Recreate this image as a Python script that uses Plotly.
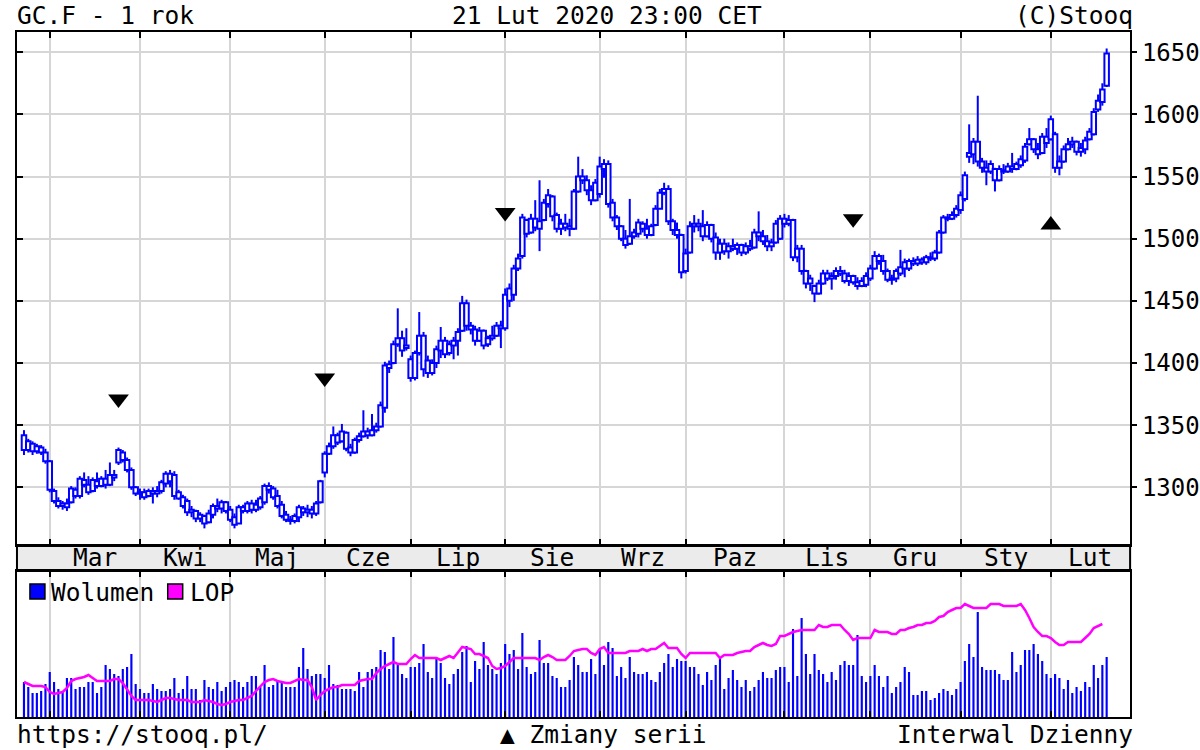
import pandas as pd
import plotly.graph_objects as go

# ---------------- data ----------------
holidays = ['2019-04-19', '2019-05-27', '2019-07-04', '2019-09-02', '2019-11-28',
            '2019-12-25', '2020-01-01', '2020-01-20', '2020-02-17']
dates = [d for d in pd.bdate_range('2019-02-21', '2020-02-21') if d.strftime('%Y-%m-%d') not in holidays]

open_ = [1342,1330,1335,1329,1332,1328,1321,1297,1289,1285,
         1287,1288,1298,1293,1306,1302,1297,1305,1301,1307,
         1302,1310,1320,1328,1322,1314,1300,1295,1296,1293,
         1297,1295,1297,1303,1311,1310,1296,1292,1289,1280,
         1281,1275,1277,1272,1278,1285,1283,1288,1282,1276,
         1271,1284,1281,1287,1282,1284,1288,1301,1299,1293,
         1286,1278,1274,1273,1276,1283,1280,1282,1279,1288,
         1312,1327,1333,1342,1337,1344,1332,1328,1338,1341,
         1345,1342,1346,1349,1364,1396,1400,1415,1420,1412,
         1403,1388,1408,1422,1402,1392,1400,1410,1418,1408,
         1414,1418,1426,1448,1430,1427,1418,1426,1415,1420,
         1422,1430,1428,1450,1455,1476,1486,1515,1505,1516,
         1508,1515,1528,1534,1519,1508,1512,1510,1508,1538,
         1550,1547,1539,1531,1536,1556,1560,1529,1517,1510,
         1500,1496,1502,1504,1512,1508,1503,1511,1524,1537,
         1540,1514,1507,1503,1474,1489,1510,1512,1510,1502,
         1511,1501,1489,1496,1490,1494,1492,1495,1489,1494,
         1493,1505,1502,1498,1494,1497,1500,1516,1512,1515,
         1485,1492,1474,1464,1462,1456,1464,1472,1468,1470,
         1474,1472,1466,1470,1465,1462,1463,1468,1476,1486,
         1482,1474,1467,1468,1472,1476,1476,1482,1480,1483,
         1481,1485,1484,1489,1505,1517,1516,1519,1523,1532,
         1566,1568,1578,1562,1557,1554,1556,1547,1555,1554,
         1558,1556,1559,1563,1576,1580,1572,1569,1582,1580,
         1584,1557,1562,1572,1576,1578,1570,1572,1580,1584,
         1604,1610,1623]

high = [1346,1339,1337,1335,1334,1331,1322,1299,1292,1289,
        1291,1301,1300,1309,1312,1309,1308,1312,1309,1314,
        1320,1314,1332,1330,1324,1316,1301,1299,1299,1299,
        1300,1301,1306,1313,1314,1313,1298,1294,1291,1285,
        1282,1280,1278,1282,1287,1291,1290,1289,1285,1279,
        1286,1286,1289,1290,1290,1293,1303,1304,1301,1298,
        1289,1281,1277,1279,1286,1285,1286,1285,1289,1306,
        1329,1336,1349,1344,1351,1345,1335,1340,1344,1362,
        1348,1359,1352,1369,1401,1402,1418,1444,1426,1428,
        1406,1410,1441,1425,1406,1403,1414,1429,1421,1418,
        1421,1428,1454,1451,1433,1430,1429,1427,1422,1430,
        1433,1434,1460,1464,1479,1488,1520,1516,1520,1531,
        1547,1532,1540,1535,1521,1516,1520,1516,1540,1566,
        1556,1551,1543,1548,1566,1564,1563,1532,1519,1511,
        1507,1532,1508,1516,1514,1516,1512,1527,1540,1545,
        1543,1516,1513,1504,1492,1514,1519,1516,1523,1514,
        1512,1505,1500,1500,1497,1500,1497,1496,1497,1499,
        1508,1522,1507,1503,1500,1515,1519,1520,1519,1516,
        1495,1495,1475,1471,1463,1467,1475,1475,1473,1477,
        1478,1475,1473,1471,1469,1469,1473,1479,1490,1488,
        1487,1476,1471,1476,1491,1484,1484,1485,1486,1485,
        1487,1489,1491,1507,1519,1520,1522,1527,1538,1554,
        1592,1581,1615,1565,1563,1563,1557,1559,1560,1561,
        1569,1562,1567,1577,1589,1581,1577,1585,1589,1599,
        1586,1567,1575,1581,1582,1579,1577,1582,1589,1605,
        1616,1625,1653]

low = [1326,1328,1326,1327,1326,1319,1296,1287,1283,1282,
       1281,1287,1291,1291,1300,1294,1296,1299,1300,1299,
       1301,1305,1318,1320,1312,1298,1293,1290,1290,1292,
       1287,1292,1295,1300,1300,1290,1290,1283,1277,1276,
       1272,1272,1267,1271,1275,1280,1279,1279,1272,1267,
       1271,1279,1279,1279,1280,1282,1286,1295,1290,1283,
       1275,1272,1270,1271,1272,1277,1276,1275,1277,1287,
       1308,1326,1331,1334,1336,1329,1325,1327,1336,1340,
       1339,1341,1344,1348,1360,1392,1399,1413,1405,1410,
       1385,1386,1406,1389,1388,1390,1396,1404,1404,1406,
       1403,1406,1425,1426,1423,1414,1417,1411,1413,1418,
       1421,1412,1426,1445,1450,1474,1484,1501,1504,1506,
       1490,1514,1525,1514,1505,1503,1506,1502,1507,1537,
       1544,1535,1527,1530,1533,1549,1525,1514,1507,1498,
       1492,1495,1500,1501,1505,1500,1502,1510,1524,1535,
       1511,1503,1500,1468,1472,1488,1505,1506,1498,1501,
       1497,1483,1483,1487,1484,1490,1487,1486,1487,1490,
       1492,1498,1495,1490,1490,1496,1499,1509,1510,1482,
       1481,1471,1460,1458,1449,1455,1463,1466,1459,1467,
       1470,1464,1462,1463,1459,1461,1461,1466,1475,1479,
       1471,1465,1463,1465,1470,1469,1474,1478,1478,1479,
       1479,1482,1482,1488,1504,1514,1515,1517,1520,1530,
       1561,1560,1558,1553,1543,1552,1538,1546,1552,1553,
       1553,1555,1557,1561,1575,1569,1564,1568,1573,1579,
       1553,1551,1561,1571,1573,1567,1566,1568,1579,1583,
       1602,1607,1622]

close = [1330,1337,1329,1333,1328,1321,1298,1289,1285,1287,
         1284,1299,1293,1307,1302,1296,1306,1301,1307,1302,
         1310,1308,1330,1322,1314,1300,1295,1296,1292,1297,
         1295,1297,1304,1311,1305,1293,1291,1285,1280,1282,
         1275,1278,1271,1279,1285,1283,1288,1281,1274,1270,
         1284,1281,1287,1282,1286,1291,1301,1298,1292,1285,
         1277,1274,1273,1277,1284,1280,1282,1279,1287,1305,
         1327,1333,1342,1336,1345,1331,1328,1338,1341,1345,
         1342,1346,1349,1366,1398,1399,1415,1420,1410,1414,
         1388,1408,1422,1395,1392,1400,1411,1418,1407,1415,
         1418,1425,1448,1430,1427,1418,1426,1414,1420,1422,
         1430,1428,1455,1460,1476,1484,1517,1504,1516,1509,
         1514,1529,1535,1518,1508,1512,1509,1508,1538,1550,
         1547,1539,1531,1545,1558,1560,1528,1517,1510,1500,
         1495,1502,1505,1513,1508,1503,1510,1524,1537,1540,
         1514,1507,1503,1473,1488,1510,1512,1510,1502,1511,
         1500,1489,1496,1490,1494,1492,1495,1489,1494,1492,
         1505,1502,1498,1494,1497,1512,1516,1512,1515,1485,
         1492,1474,1464,1468,1456,1464,1472,1468,1470,1474,
         1472,1466,1470,1465,1462,1466,1470,1476,1486,1482,
         1474,1467,1468,1474,1477,1481,1482,1480,1483,1481,
         1485,1484,1489,1505,1517,1516,1519,1524,1535,1551,
         1569,1578,1562,1557,1554,1560,1547,1556,1554,1558,
         1556,1560,1564,1574,1580,1572,1568,1582,1577,1596,
         1557,1562,1572,1576,1578,1570,1573,1579,1586,1602,
         1611,1620,1649]

# volume (relative units) and open interest "LOP" (relative units)
volume = [35,30,24,24,26,33,45,35,28,26,
          39,39,28,30,30,35,35,24,30,52,
          48,43,41,48,50,63,33,28,24,24,
          33,28,26,26,28,39,24,28,41,28,
          28,17,37,30,28,35,26,30,35,37,
          35,30,35,41,41,30,52,30,32,37,
          35,30,30,30,50,69,48,41,43,43,
          39,52,33,32,28,28,28,26,45,30,
          45,48,50,67,65,48,80,52,43,39,
          50,50,54,73,45,39,58,54,39,33,
          43,48,65,71,35,56,48,75,52,48,
          43,54,73,63,67,48,84,50,43,45,
          77,54,54,41,39,30,30,
          37,60,52,45,45,58,43,67,52,75,
          69,41,50,39,60,45,43,43,45,37,
          35,45,54,63,50,58,56,56,50,50,
          43,32,45,37,52,60,28,39,47,37,
          30,37,26,30,37,45,39,39,47,50,
          50,35,88,41,99,63,43,63,47,43,
          35,45,37,52,56,52,52,82,41,35,
          41,52,41,30,41,24,30,35,50,45,
          22,22,26,26,17,19,24,28,26,22,
          28,35,56,73,60,105,50,47,47,47,
          43,37,37,65,45,52,67,67,73,63,
          56,43,39,43,39,28,37,24,30,26,
          35,30,52,39,52,60]

lop = [35,33,31,31,31,30,25,23,24,25,
       29,36,38,39,40,42,39,36,36,36,
       36,38,38,34,27,21,17,17,17,17,
       16,15,17,19,19,18,17,17,17,15,
       15,15,17,16,15,13,12,13,15,16,
       17,17,19,21,26,30,35,37,38,36,
       35,34,34,36,38,37,37,30,17,22,
       26,28,30,30,32,32,32,32,36,37,
       38,38,44,48,51,53,55,53,53,53,
       58,62,59,59,59,59,59,57,59,61,
       59,65,70,69,68,63,63,61,59,51,
       48,49,51,55,59,59,59,59,59,59,
       57,60,62,60,57,57,57,61,66,67,
       68,68,64,62,68,70,64,64,64,64,
       64,66,66,66,68,66,68,68,71,74,
       69,69,69,63,59,64,64,64,64,64,
       64,64,59,62,62,62,64,65,66,66,
       70,72,74,72,71,73,81,81,83,85,
       86,87,87,87,87,92,90,90,92,92,
       92,87,83,77,79,79,79,79,87,85,
       85,85,83,83,87,87,89,90,92,92,
       94,94,96,100,101,105,107,109,109,113,
       111,109,109,109,109,113,113,113,111,111,
       111,111,113,107,99,90,85,81,81,79,
       75,72,72,75,75,75,75,79,83,89,
       91,93]

price_ticks = [1300, 1350, 1400, 1450, 1500, 1550, 1600, 1650]
month_names = {1: 'Sty', 2: 'Lut', 3: 'Mar', 4: 'Kwi', 5: 'Maj', 6: 'Cze',
               7: 'Lip', 8: 'Sie', 9: 'Wrz', 10: 'Paz', 11: 'Lis', 12: 'Gru'}

# contract roll-overs ("Zmiany serii")
roll_down_idx = [22, 70, 112, 193]
roll_down_price = [1371, 1388, 1521, 1516]
roll_up_idx = [239]
roll_up_price = [1511]

# ---------------- layout helpers ----------------
W, H = 1200, 750
FONT = 'DejaVu Sans Mono'
FS = 24.5
BLUE = '#0000ff'
idx = list(range(len(dates)))

def px_x(p):
    return p / W

def px_y(p):
    return 1 - p / H

month_start = [i for i in range(1, len(dates)) if dates[i].month != dates[i - 1].month]
x_lo, x_hi = -1.63, 257.46
bounds = month_start + [x_hi]
month_mid = [(bounds[k] + bounds[k + 1]) / 2 for k in range(len(month_start))]
month_lbl = [month_names[dates[i].month] for i in month_start]

# hollow candles: body bars + wick segments (derived from the OHLC lists)
body_lo = [min(o, c) for o, c in zip(open_, close)]
body_hi = [max(o, c) for o, c in zip(open_, close)]
body_h = [max(b - a, 0.4) for a, b in zip(body_lo, body_hi)]
wick_x, wick_y = [], []
for i, (h, l, bl, bh) in enumerate(zip(high, low, body_lo, body_hi)):
    if h > bh:
        wick_x += [i, i, None]
        wick_y += [bh, h, None]
    if l < bl:
        wick_x += [i, i, None]
        wick_y += [bl, l, None]

fig = go.Figure()

fig.add_trace(go.Bar(x=idx, y=body_h, base=body_lo, width=1.05,
                     marker=dict(color='white', line=dict(color=BLUE, width=2)),
                     showlegend=False, hoverinfo='skip', xaxis='x', yaxis='y'))
fig.add_trace(go.Scatter(x=wick_x, y=wick_y, mode='lines', line=dict(color=BLUE, width=2),
                         showlegend=False, hoverinfo='skip', xaxis='x', yaxis='y'))

fig.add_trace(go.Scatter(x=roll_down_idx, y=roll_down_price, mode='markers',
                         marker=dict(symbol='triangle-down', size=18, color='black', line=dict(width=0)),
                         showlegend=False, hoverinfo='skip', xaxis='x', yaxis='y'))
fig.add_trace(go.Scatter(x=roll_up_idx, y=roll_up_price, mode='markers',
                         marker=dict(symbol='triangle-up', size=18, color='black', line=dict(width=0)),
                         showlegend=False, hoverinfo='skip', xaxis='x', yaxis='y'))

# invisible trace carrying the left inner tick axis
fig.add_trace(go.Scatter(x=[0], y=[1300], mode='markers', marker=dict(opacity=0),
                         showlegend=False, hoverinfo='skip', xaxis='x', yaxis='y3'))

fig.add_trace(go.Bar(x=idx, y=volume, width=0.5, marker=dict(color=BLUE, line=dict(width=0)),
                     showlegend=False, hoverinfo='skip', xaxis='x2', yaxis='y2'))
fig.add_trace(go.Scatter(x=idx[:len(lop)], y=lop, mode='lines', line=dict(color='#ff00ff', width=2.5),
                         showlegend=False, hoverinfo='skip', xaxis='x2', yaxis='y2'))

dom_x = [px_x(17), px_x(1132)]
grid = '#d6d6d6'
p_lo = 1300 - (545 - 487.4) / 1.242
p_hi = 1650 + (52.5 - 32.3) / 1.242

common_x = dict(range=[x_lo, x_hi], domain=dom_x, tickmode='array', tickvals=month_start,
                showticklabels=False, ticks='inside', ticklen=6, tickwidth=2, tickcolor='black',
                showgrid=True, gridcolor=grid, gridwidth=2, showline=True, linecolor='black',
                linewidth=2, mirror='ticks', zeroline=False, fixedrange=True)

fig.update_layout(
    width=W, height=H, margin=dict(l=0, r=0, t=0, b=0), autosize=False,
    paper_bgcolor='white', plot_bgcolor='white', barmode='overlay',
    font=dict(family=FONT, size=FS, color='black'),
    xaxis=dict(**common_x, anchor='y'),
    xaxis2=dict(**common_x, anchor='y2', matches='x'),
    yaxis=dict(domain=[px_y(545), px_y(32)], range=[p_lo, p_hi], side='right', anchor='x',
               tickmode='array', tickvals=price_ticks, ticks='outside', ticklen=5, tickwidth=2,
               tickcolor='black', showgrid=True, gridcolor=grid, gridwidth=2, showline=True,
               linecolor='black', linewidth=2, mirror=True, zeroline=False,
               tickfont=dict(family=FONT, size=24, color='black'), fixedrange=True),
    yaxis3=dict(overlaying='y', side='left', anchor='x', range=[p_lo, p_hi], tickmode='array',
                tickvals=price_ticks, ticks='inside', ticklen=6, tickwidth=2, tickcolor='black',
                showticklabels=False, showgrid=False, showline=False, zeroline=False, fixedrange=True),
    yaxis2=dict(domain=[px_y(717), px_y(571)], range=[0, 146], anchor='x2', showticklabels=False,
                ticks='', showgrid=False, showline=True, linecolor='black', linewidth=2,
                mirror=True, zeroline=False, fixedrange=True),
)

shapes = [
    dict(type='rect', xref='paper', yref='paper', x0=dom_x[0], x1=dom_x[1],
         y0=px_y(571), y1=px_y(545), fillcolor='#ebebeb', line=dict(color='black', width=2),
         layer='below'),
    dict(type='rect', xref='paper', yref='paper', x0=px_x(30), x1=px_x(45),
         y0=px_y(599), y1=px_y(584), fillcolor=BLUE, line=dict(color='black', width=1.5)),
    dict(type='rect', xref='paper', yref='paper', x0=px_x(168), x1=px_x(183),
         y0=px_y(599), y1=px_y(584), fillcolor='#ff00ff', line=dict(color='black', width=1.5)),
]
fig.update_layout(shapes=shapes)

ann = []
def text(t, x, y, anchor):
    ann.append(dict(text=t, x=px_x(x), y=px_y(y), xref='paper', yref='paper', xanchor=anchor,
                    yanchor='middle', showarrow=False, font=dict(family=FONT, size=FS, color='black')))

text('GC.F - 1 rok', 15, 15, 'left')
text('21 Lut 2020 23:00 CET', 608, 15, 'center')
text('(C)Stooq', 1137, 15, 'right')
text('https://stooq.pl/', 15, 734, 'left')
text('▲ Zmiany serii', 605, 734, 'center')
text('Interwal Dzienny', 1137, 734, 'right')
text('Wolumen', 49, 592, 'left')
text('LOP', 188, 592, 'left')
for m, lbl in zip(month_mid, month_lbl):
    ann.append(dict(text=lbl, x=m, y=px_y(557), xref='x', yref='paper', xanchor='center',
                    yanchor='middle', showarrow=False, font=dict(family=FONT, size=FS, color='black')))
fig.update_layout(annotations=ann)

fig.write_html('out.html', config={'displayModeBar': False},
               post_script="document.body.style.margin='0px';")
